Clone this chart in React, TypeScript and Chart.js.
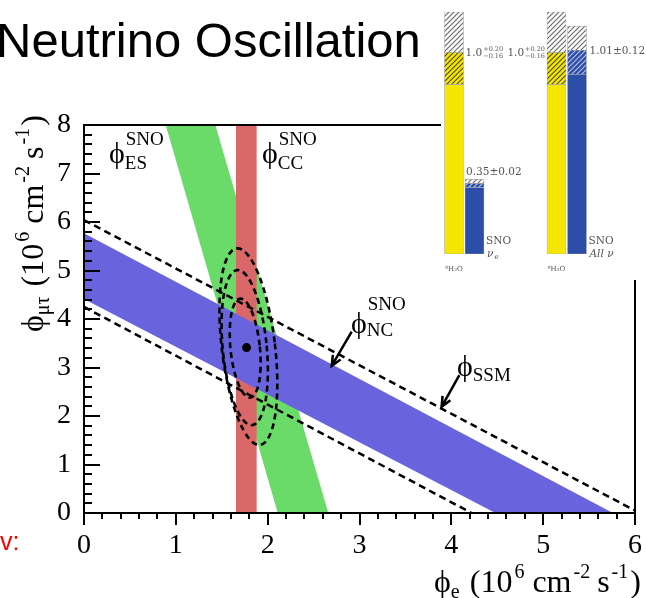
import React, { useEffect, useRef } from "react";
import { Chart, registerables } from "chart.js";
Chart.register(...registerables);

const SERIF = '"Liberation Serif", "Times New Roman", Times, serif';
const SANS = '"Liberation Sans", Arial, Helvetica, sans-serif';
const ISERIF = '"DejaVu Serif", "Liberation Serif", serif';
const PHI = "\u03D5";

// ---------------- main plot data (phi_e , phi_mu-tau in 1e6 cm^-2 s^-1) ----------------
const xTicks = [0, 1, 2, 3, 4, 5, 6];
const yTicks = [0, 1, 2, 3, 4, 5, 6, 7, 8];
const minorStep = 0.2;

// band polygons
const esBand = [
  { x: 0.89, y: 8 },
  { x: 1.43, y: 8 },
  { x: 2.66, y: 0 },
  { x: 2.11, y: 0 },
];
const ccBand = [
  { x: 1.655, y: 0 },
  { x: 1.655, y: 8 },
  { x: 1.88, y: 8 },
  { x: 1.88, y: 0 },
];
const ncBand = [
  { x: 0, y: 5.77 },
  { x: 5.76, y: 0 },
  { x: 4.48, y: 0 },
  { x: 0, y: 4.41 },
];
const ssmUpper = [
  { x: 0, y: 6.04 },
  { x: 6, y: 0.05 },
];
const ssmLower = [
  { x: 0, y: 4.25 },
  { x: 4.22, y: 0 },
];
const bestFit = [{ x: 1.77, y: 3.41 }];

// confidence contours (inner, middle, outer)
const contourCx = [1.755, 1.75, 1.79];
const contourCy = [3.4, 3.41, 3.43];
const contourSemiX = [0.16, 0.24, 0.29];
const contourSemiY = [1.025, 1.606, 2.04];
const contourTiltDeg = [-5.8, -5.5, -6.8];

// arrows [tail, head]
const ncArrow = [
  { x: 2.915, y: 3.74 },
  { x: 2.697, y: 3.035 },
];
const ssmArrow = [
  { x: 4.087, y: 2.845 },
  { x: 3.894, y: 2.19 },
];

// ---------------- inset bar chart data (flux / SSM) ----------------
const insetGroups = [0, 1];
const insetBlueOffset = 0.2;
const ssmFlux = [1.0, 1.0];
const ssmErrUp = [0.2, 0.2];
const ssmErrDown = [0.16, 0.16];
const snoFlux = [0.35, 1.01];
const snoErr = [0.02, 0.12];
const snoLabelTop = ["SNO", "SNO"];
const snoLabelBottom = ["ν", "All ν"];
const snoLabelSub = ["e", ""];
const ssmLabel = "⁸H₂O";

const GREEN = "rgb(106,218,104)";
const RED = "rgb(218,104,104)";
const BLUE = "rgb(105,100,222)";
const YELLOW = "rgb(245,230,0)";
const DBLUE = "rgb(44,78,168)";

type Part = { t: string; size: number; dy: number; gap?: number };

function drawRich(ctx: CanvasRenderingContext2D, parts: Part[], x: number, y: number) {
  let cx = x;
  for (const p of parts) {
    ctx.font = `${p.size}px ${SERIF}`;
    ctx.fillText(p.t, cx, y + p.dy);
    cx += ctx.measureText(p.t).width + (p.gap || 0);
  }
  return cx;
}

function drawPhiLabel(
  ctx: CanvasRenderingContext2D,
  x: number,
  base: number,
  sub: string,
  subBase: number,
  sup: string | null,
  supBase: number
) {
  ctx.font = `30px ${SERIF}`;
  ctx.fillText(PHI, x, base);
  const w = ctx.measureText(PHI).width;
  ctx.font = `19px ${SERIF}`;
  ctx.fillText(sub, x + w + 0, subBase);
  if (sup) ctx.fillText(sup, x + w + 1, supBase);
}

function drawArrow(ctx: CanvasRenderingContext2D, x1: number, y1: number, x2: number, y2: number) {
  ctx.beginPath();
  ctx.moveTo(x1, y1);
  ctx.lineTo(x2, y2);
  const ang = Math.atan2(y2 - y1, x2 - x1);
  const L = 11;
  const a = 0.42;
  ctx.moveTo(x2 - L * Math.cos(ang - a), y2 - L * Math.sin(ang - a));
  ctx.lineTo(x2, y2);
  ctx.lineTo(x2 - L * Math.cos(ang + a), y2 - L * Math.sin(ang + a));
  ctx.stroke();
}

const titleParts = (sub: string): Part[] => [
  { t: PHI, size: 32, dy: 0 },
  { t: sub, size: 20, dy: 6, gap: 10 },
  { t: "(10", size: 32, dy: 0, gap: 2 },
  { t: "6", size: 20, dy: -14, gap: 8 },
  { t: "cm", size: 32, dy: 0, gap: 2 },
  { t: "-2", size: 20, dy: -14, gap: 7 },
  { t: "s", size: 32, dy: 0, gap: 2 },
  { t: "-1", size: 20, dy: -14, gap: 2 },
  { t: ")", size: 32, dy: 0 },
];

const mainPlugin = {
  id: "mainDeco",
  afterDatasetsDraw(chart: any) {
    const { ctx, chartArea: a } = chart;
    const xs = chart.scales.x;
    const ys = chart.scales.y;
    ctx.save();
    // contours
    ctx.strokeStyle = "#000";
    ctx.lineWidth = 2.6;
    ctx.setLineDash([6, 4]);
    for (let i = 0; i < contourCx.length; i++) {
      const cx = xs.getPixelForValue(contourCx[i]);
      const cy = ys.getPixelForValue(contourCy[i]);
      const rx = Math.abs(xs.getPixelForValue(contourCx[i] + contourSemiX[i]) - cx);
      const ry = Math.abs(ys.getPixelForValue(contourCy[i] + contourSemiY[i]) - cy);
      ctx.beginPath();
      ctx.ellipse(cx, cy, rx, ry, (contourTiltDeg[i] * Math.PI) / 180, 0, Math.PI * 2);
      ctx.stroke();
    }
    ctx.setLineDash([]);
    // arrows
    ctx.lineWidth = 2.5;
    for (const ar of [ncArrow, ssmArrow]) {
      drawArrow(
        ctx,
        xs.getPixelForValue(ar[0].x),
        ys.getPixelForValue(ar[0].y),
        xs.getPixelForValue(ar[1].x),
        ys.getPixelForValue(ar[1].y)
      );
    }
    // frame
    ctx.lineWidth = 2;
    ctx.strokeRect(a.left, a.top, a.right - a.left, a.bottom - a.top);
    // ticks
    ctx.beginPath();
    const ny = Math.round((yTicks[yTicks.length - 1] - yTicks[0]) / minorStep);
    for (let k = 0; k <= ny; k++) {
      const v = yTicks[0] + k * minorStep;
      const major = k % 5 === 0;
      const py = Math.round(ys.getPixelForValue(v));
      ctx.moveTo(a.left, py);
      ctx.lineTo(a.left + (major ? 16 : 8), py);
    }
    const nx = Math.round((xTicks[xTicks.length - 1] - xTicks[0]) / minorStep);
    for (let k = 0; k <= nx; k++) {
      const v = xTicks[0] + k * minorStep;
      const major = k % 5 === 0;
      const px = Math.round(xs.getPixelForValue(v));
      ctx.moveTo(px, a.bottom);
      ctx.lineTo(px, a.bottom + (major ? 12 : 6));
    }
    ctx.stroke();
    ctx.restore();
  },
  afterDraw(chart: any) {
    const { ctx } = chart;
    ctx.save();
    ctx.textBaseline = "alphabetic";
    ctx.textAlign = "left";
    ctx.fillStyle = "#000";
    // slide title
    ctx.font = `49px ${SANS}`;
    ctx.fillText("Neutrino Oscillation", -4, 57);
    // red fragment bottom-left
    ctx.fillStyle = "#ff0000";
    ctx.font = `25px ${SANS}`;
    ctx.fillText("v:", 0, 550);
    ctx.fillStyle = "#000";
    // band labels
    drawPhiLabel(ctx, 109, 163, "ES", 169, "SNO", 145);
    drawPhiLabel(ctx, 262, 163, "CC", 169, "SNO", 145);
    drawPhiLabel(ctx, 351, 333, "NC", 336, "SNO", 310);
    drawPhiLabel(ctx, 457, 376, "SSM", 381, null, 0);
    // x axis title
    drawRich(ctx, titleParts("e"), 434, 592);
    // y axis title (rotated)
    ctx.save();
    ctx.translate(43, 332);
    ctx.rotate(-Math.PI / 2);
    drawRich(ctx, titleParts("μτ"), 0, 0);
    ctx.restore();
    ctx.restore();
  },
};

function hatch(bg: string, line: string, lw = 1.1) {
  const s = 5;
  const c = document.createElement("canvas");
  c.width = s;
  c.height = s;
  const g = c.getContext("2d")!;
  g.fillStyle = bg;
  g.fillRect(0, 0, s, s);
  g.strokeStyle = line;
  g.lineWidth = lw;
  g.beginPath();
  g.moveTo(-1, s + 1);
  g.lineTo(s + 1, -1);
  g.moveTo(-1, 1);
  g.lineTo(1, -1);
  g.moveTo(s - 1, s + 1);
  g.lineTo(s + 1, s - 1);
  g.stroke();
  return g.createPattern(c, "repeat")!;
}

function drawPM(
  ctx: CanvasRenderingContext2D,
  main: string,
  up: string,
  down: string,
  x: number,
  y: number,
  alignRight: boolean
) {
  ctx.font = `10.5px ${ISERIF}`;
  const wm = ctx.measureText(main).width;
  ctx.font = `6.5px ${ISERIF}`;
  const ws = Math.max(ctx.measureText(up).width, ctx.measureText(down).width);
  const x0 = alignRight ? x - wm - ws - 1 : x;
  ctx.font = `10.5px ${ISERIF}`;
  ctx.fillText(main, x0, y + 4);
  ctx.font = `6.5px ${ISERIF}`;
  ctx.fillText(up, x0 + wm + 1, y - 1);
  ctx.fillText(down, x0 + wm + 1, y + 6);
}

const BAR_W = 19;

const insetPlugin = {
  id: "insetLabels",
  afterDraw(chart: any) {
    const { ctx } = chart;
    const xs = chart.scales.x;
    const ys = chart.scales.y;
    ctx.save();
    ctx.fillStyle = "#555";
    ctx.textBaseline = "alphabetic";
    const half = BAR_W / 2;
    for (let i = 0; i < insetGroups.length; i++) {
      const xy = xs.getPixelForValue(insetGroups[i]);
      const xb = xs.getPixelForValue(insetGroups[i] + insetBlueOffset);
      const py = ys.getPixelForValue(ssmFlux[i]);
      const up = "+" + ssmErrUp[i].toFixed(2);
      const dn = "−" + ssmErrDown[i].toFixed(2);
      if (i === 0) drawPM(ctx, ssmFlux[i].toFixed(1), up, dn, xy + half + 2, py, false);
      else drawPM(ctx, ssmFlux[i].toFixed(1), up, dn, xy - half - 2, py, true);
      ctx.font = `10.5px ${ISERIF}`;
      const txt = snoFlux[i].toFixed(2) + "±" + snoErr[i].toFixed(2);
      if (i === 0) {
        ctx.fillText(txt, xb - half + 1, ys.getPixelForValue(snoFlux[i] + snoErr[i]) - 4);
      } else {
        ctx.fillText(txt, xb + half + 3, ys.getPixelForValue(snoFlux[i]) + 4);
      }
      const bottom = ys.getPixelForValue(0);
      ctx.font = `10.5px ${ISERIF}`;
      ctx.fillText(snoLabelTop[i], xb + half + 2, bottom - 10);
      ctx.font = `italic 10.5px ${ISERIF}`;
      ctx.fillText(snoLabelBottom[i], xb + half + 3, bottom + 3);
      if (snoLabelSub[i]) {
        const w = ctx.measureText(snoLabelBottom[i]).width;
        ctx.font = `italic 7px ${ISERIF}`;
        ctx.fillText(snoLabelSub[i], xb + half + 3 + w + 1, bottom + 5);
      }
      ctx.font = `7px ${ISERIF}`;
      ctx.textAlign = "center";
      ctx.fillText(ssmLabel, xy, bottom + 17);
      ctx.textAlign = "left";
    }
    ctx.restore();
  },
};

export default function App() {
  const mainRef = useRef<HTMLCanvasElement>(null);
  const insetRef = useRef<HTMLCanvasElement>(null);

  useEffect(() => {
    const poly = (data: any[], color: string, order: number) => ({
      data,
      showLine: true,
      fill: "shape",
      backgroundColor: color,
      borderColor: color,
      borderWidth: 0,
      pointRadius: 0,
      order,
    });
    const dashed = (data: any[], order: number) => ({
      data,
      showLine: true,
      fill: false,
      borderColor: "#000",
      borderWidth: 2.5,
      borderDash: [7, 4.5],
      pointRadius: 0,
      order,
    });
    const main = new Chart(mainRef.current!, {
      type: "scatter",
      data: {
        datasets: [
          poly(esBand, GREEN, 10),
          poly(ccBand, RED, 9),
          poly(ncBand, BLUE, 8),
          dashed(ssmUpper, 7),
          dashed(ssmLower, 6),
          {
            data: bestFit,
            pointRadius: 4.5,
            pointBackgroundColor: "#000",
            pointBorderColor: "#000",
            pointBorderWidth: 0,
            order: 1,
          },
        ] as any,
      },
      options: {
        animation: false,
        responsive: false,
        devicePixelRatio: 1,
        events: [],
        layout: { padding: { left: 0, right: 11, top: 125, bottom: 0 } },
        plugins: { legend: { display: false }, tooltip: { enabled: false } },
        scales: {
          x: {
            type: "linear",
            min: xTicks[0],
            max: xTicks[xTicks.length - 1],
            grid: { display: false },
            border: { display: false },
            ticks: {
              font: { family: SERIF, size: 28 },
              color: "#000",
              padding: 8,
              maxRotation: 0,
              autoSkip: false,
            },
            afterBuildTicks: (s: any) => {
              s.ticks = xTicks.map((v) => ({ value: v }));
            },
            afterFit: (s: any) => {
              s.height = 85;
              s.paddingLeft = 0;
              s.paddingRight = 0;
            },
          },
          y: {
            type: "linear",
            min: yTicks[0],
            max: yTicks[yTicks.length - 1],
            grid: { display: false },
            border: { display: false },
            ticks: {
              font: { family: SERIF, size: 28 },
              color: "#000",
              padding: 5,
              autoSkip: false,
            },
            afterBuildTicks: (s: any) => {
              s.ticks = yTicks.map((v) => ({ value: v }));
            },
            afterFit: (s: any) => {
              s.width = 84;
              s.paddingTop = 0;
              s.paddingBottom = 0;
            },
          },
        },
      } as any,
      plugins: [mainPlugin],
    });

    const gray = hatch("#ffffff", "#666");
    const yh = hatch(YELLOW, "#4a4520");
    const bh = hatch(DBLUE, "#b8c4ea");
    const yellowX = insetGroups;
    const blueX = insetGroups.map((g) => g + insetBlueOffset);
    const bar = (data: any[], bg: any) => ({
      data,
      backgroundColor: bg,
      borderColor: "#aaa",
      borderWidth: 0.6,
      borderSkipped: false,
      barThickness: BAR_W,
      grouped: false,
    });
    const inset = new Chart(insetRef.current!, {
      type: "bar",
      data: {
        datasets: [
          bar(yellowX.map((x, i) => ({ x, y: [0, ssmFlux[i] - ssmErrDown[i]] })), YELLOW),
          bar(yellowX.map((x, i) => ({ x, y: [ssmFlux[i] - ssmErrDown[i], ssmFlux[i]] })), yh),
          bar(yellowX.map((x, i) => ({ x, y: [ssmFlux[i], ssmFlux[i] + ssmErrUp[i]] })), gray),
          bar(blueX.map((x, i) => ({ x, y: [0, snoFlux[i] - snoErr[i]] })), DBLUE),
          bar(blueX.map((x, i) => ({ x, y: [snoFlux[i] - snoErr[i], snoFlux[i]] })), bh),
          bar(blueX.map((x, i) => ({ x, y: [snoFlux[i], snoFlux[i] + snoErr[i]] })), gray),
        ] as any,
      },
      options: {
        animation: false,
        responsive: false,
        devicePixelRatio: 1,
        events: [],
        layout: { padding: { left: 2.75, right: 7.5, top: 7, bottom: 26 } },
        plugins: { legend: { display: false }, tooltip: { enabled: false } },
        scales: {
          x: { type: "linear", min: -0.1, max: 1.8, offset: false, display: false },
          y: { type: "linear", min: 0, max: 1.225, display: false },
        },
      } as any,
      plugins: [insetPlugin],
    });

    return () => {
      main.destroy();
      inset.destroy();
    };
  }, []);

  return (
    <div
      style={{
        position: "fixed",
        left: 0,
        top: 0,
        width: 646,
        height: 598,
        background: "#fff",
        overflow: "hidden",
      }}
    >
      <canvas
        ref={mainRef}
        width={646}
        height={598}
        style={{ position: "absolute", left: 0, top: 0, width: 646, height: 598 }}
      />
      <div
        style={{
          position: "absolute",
          left: 441,
          top: 0,
          width: 205,
          height: 280,
          background: "#fff",
        }}
      >
        <canvas ref={insetRef} width={205} height={280} style={{ width: 205, height: 280 }} />
      </div>
    </div>
  );
}
